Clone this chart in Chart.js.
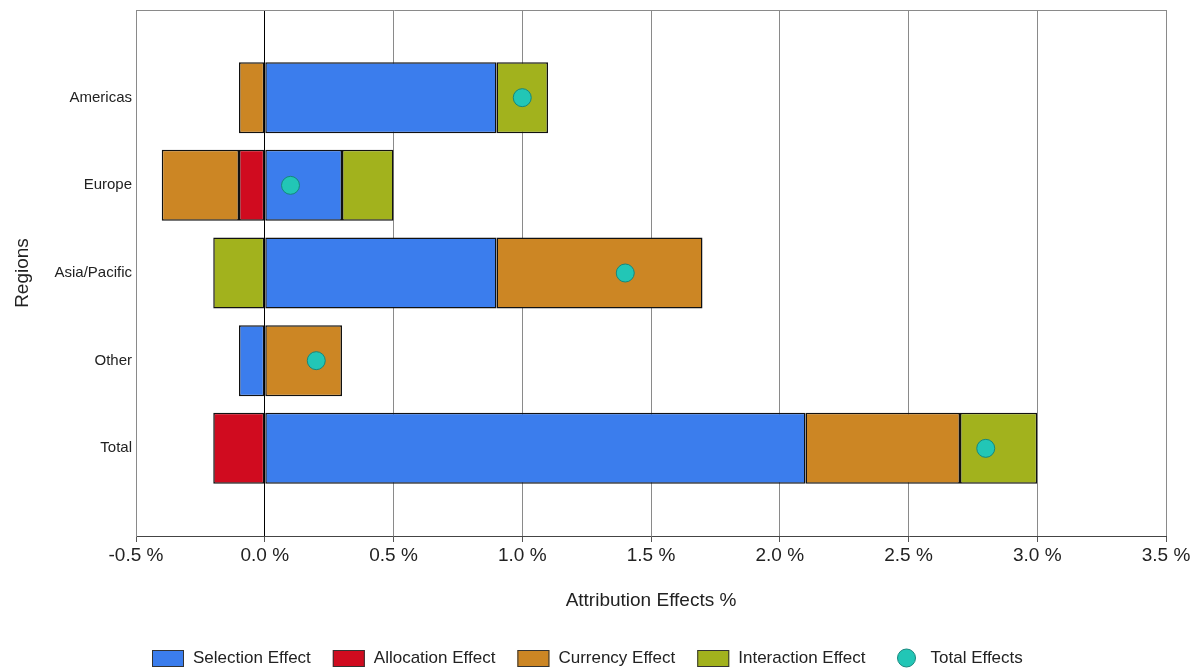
<!DOCTYPE html>
<html>
<head>
<meta charset="utf-8">
<script src="https://cdn.jsdelivr.net/npm/chart.js@4/dist/chart.umd.min.js"></script>
<style>
  html, body { margin: 0; padding: 0; background: #fff; }
  #wrap { width: 1197px; height: 672px; position: relative; }
</style>
</head>
<body>
<div id="wrap"><canvas id="c" width="1197" height="672"></canvas></div>
<script>
const categories = ['Americas', 'Europe', 'Asia/Pacific', 'Other', 'Total'];
const selectionEffect   = [0.9, 0.3, 0.9, -0.1, 2.1];
const allocationEffect  = [null, -0.1, null, null, -0.2];
const currencyEffect    = [-0.1, -0.3, 0.8, 0.3, 0.6];
const interactionEffect = [0.2, 0.2, -0.2, null, 0.3];
const totalEffects      = [1.0, 0.1, 1.4, 0.2, 2.8];
const xTicks = [-0.5, 0.0, 0.5, 1.0, 1.5, 2.0, 2.5, 3.0, 3.5];

const pad = arr => [null, ...arr, null];
const labels = ['', ...categories, ''];

const FONT = "'Liberation Sans', Arial, sans-serif";
const barBase = { type: 'bar', borderColor: '#111', borderWidth: 1.5, borderSkipped: false, stack: 'effects', order: 2 };

const datasets = [
  Object.assign({}, barBase, { label: 'Selection Effect',   data: pad(selectionEffect),   backgroundColor: '#3b7ded' }),
  Object.assign({}, barBase, { label: 'Allocation Effect',  data: pad(allocationEffect),  backgroundColor: '#d00b1f' }),
  Object.assign({}, barBase, { label: 'Currency Effect',    data: pad(currencyEffect),    backgroundColor: '#cc8624' }),
  Object.assign({}, barBase, { label: 'Interaction Effect', data: pad(interactionEffect), backgroundColor: '#a2b21d' }),
  { type: 'line', label: 'Total Effects', data: pad(totalEffects), showLine: false, stack: 'dots', order: 0,
    pointRadius: 9, pointHoverRadius: 9, pointBackgroundColor: '#22c6b6', pointBorderColor: '#16877d', pointBorderWidth: 1,
    backgroundColor: '#22c6b6', borderColor: '#16877d' }
];

const legendPlugin = {
  id: 'customLegend',
  afterDraw(chart) {
    const ctx = chart.ctx;
    ctx.save();
    ctx.font = "17px " + FONT;
    ctx.textBaseline = 'middle';
    const y = 658;
    let x = 152;
    chart.data.datasets.forEach((ds, i) => {
      if (ds.type === 'line') {
        x += 10;
        ctx.beginPath();
        ctx.arc(x + 9, y, 9, 0, Math.PI * 2);
        ctx.fillStyle = ds.pointBackgroundColor;
        ctx.fill();
        ctx.lineWidth = 1;
        ctx.strokeStyle = ds.pointBorderColor;
        ctx.stroke();
        x += 33;
      } else {
        ctx.fillStyle = ds.backgroundColor;
        ctx.fillRect(x, y - 8, 32, 17);
        ctx.lineWidth = 1;
        ctx.strokeStyle = '#333';
        ctx.strokeRect(x + 0.5, y - 7.5, 31, 16);
        x += 41;
      }
      ctx.fillStyle = '#222';
      ctx.fillText(ds.label, x, y);
      x += ctx.measureText(ds.label).width + 22;
    });
    ctx.restore();
  }
};

new Chart(document.getElementById('c'), {
  type: 'bar',
  data: { labels, datasets },
  plugins: [legendPlugin],
  options: {
    indexAxis: 'y',
    responsive: false,
    animation: false,
    events: [],
    layout: { padding: { left: 0, right: 31, top: 6, bottom: 60 } },
    plugins: { legend: { display: false }, tooltip: { enabled: false } },
    datasets: { bar: { categoryPercentage: 0.81, barPercentage: 1.0 } },
    scales: {
      x: {
        type: 'linear', stacked: true, min: -0.5, max: 3.5,
        afterBuildTicks: s => { s.ticks = xTicks.map(v => ({ value: v })); },
        afterFit: s => { s.height = 76; },
        ticks: { font: { family: FONT, size: 19 }, color: '#222', padding: 2,
                 callback: v => Number(v).toFixed(1) + ' %' },
        grid: { color: c => (c.tick && c.tick.value === 0) ? '#000' : '#8a8a8a', lineWidth: 1, tickLength: 6, tickColor: '#555' },
        border: { display: true, color: '#444', width: 1 },
        title: { display: true, text: 'Attribution Effects %', font: { family: FONT, size: 19 }, color: '#222', padding: { top: 0, bottom: 0 } }
      },
      y: {
        type: 'category', stacked: true, offset: false,
        afterFit: s => { s.width = 136; s.paddingTop = 0; s.paddingBottom = 0; },
        ticks: { font: { family: FONT, size: 15 }, color: '#222', padding: 4, autoSkip: false },
        grid: { offset: false, drawTicks: false, color: c => c.index === 0 ? '#8a8a8a' : 'rgba(0,0,0,0)' },
        border: { display: true, color: '#8a8a8a', width: 1 },
        title: { display: true, text: 'Regions', font: { family: FONT, size: 19 }, color: '#222', padding: { top: 11, bottom: 0 } }
      }
    }
  }
});
</script>
</body>
</html>
